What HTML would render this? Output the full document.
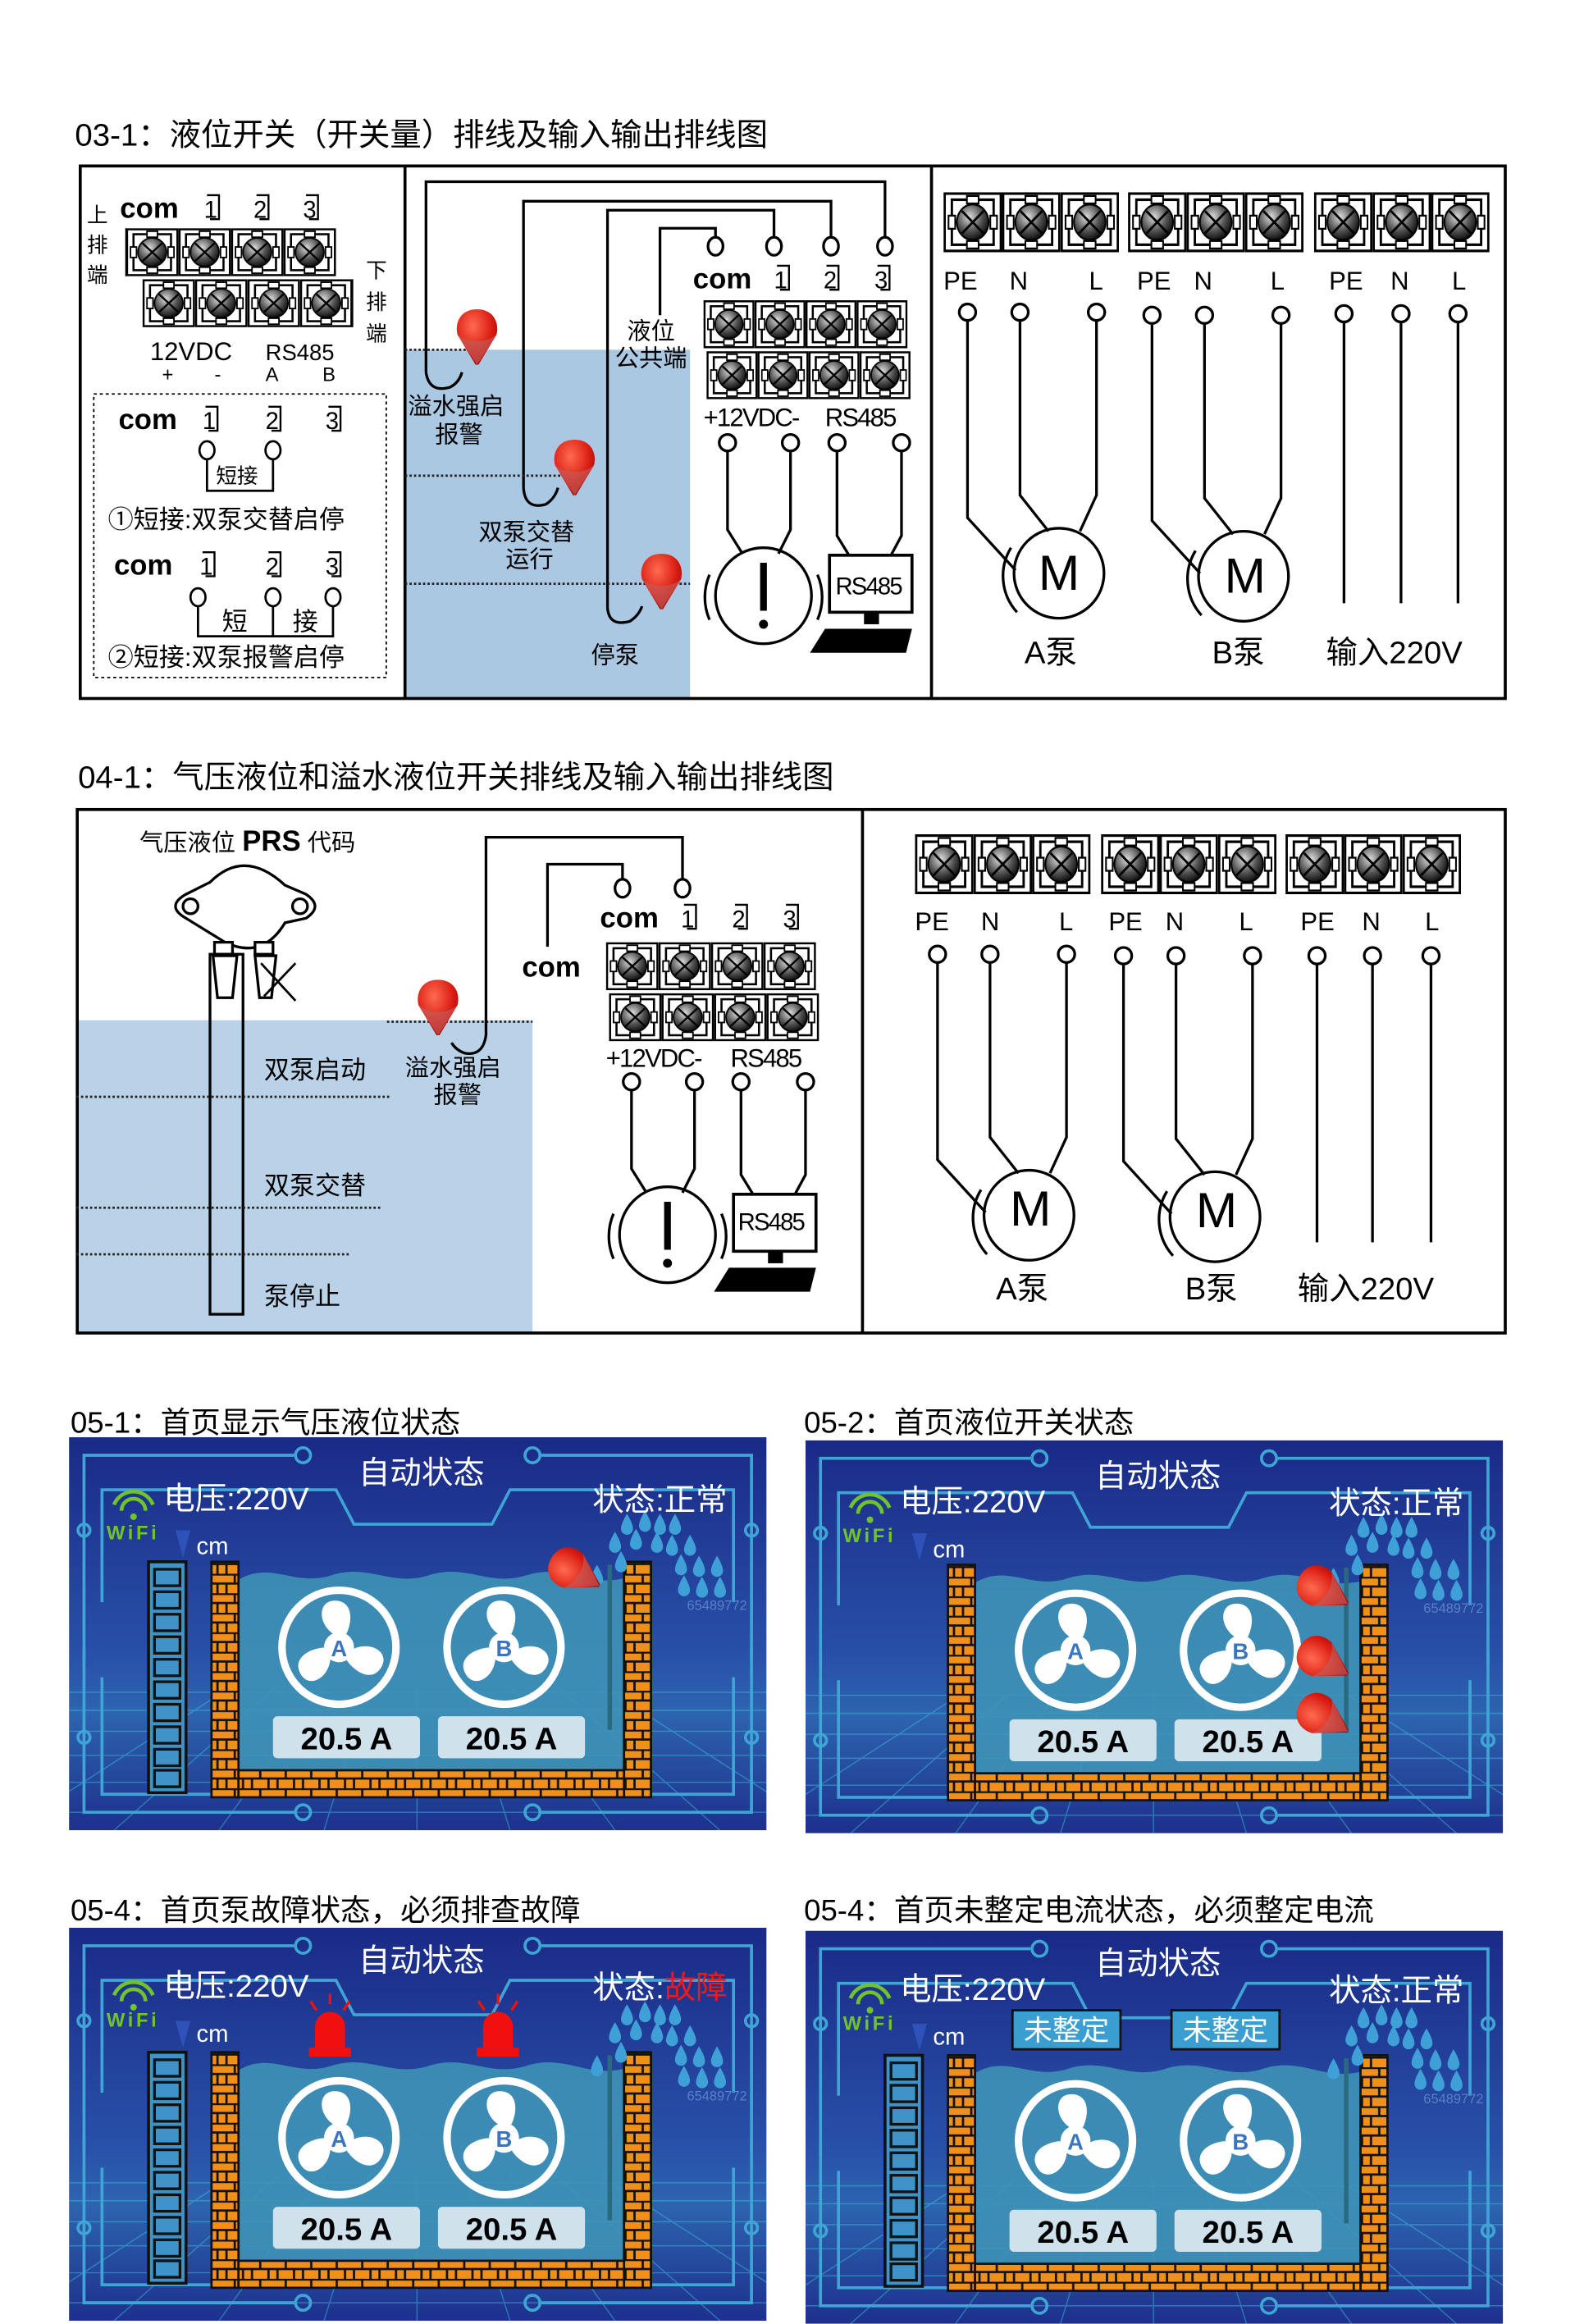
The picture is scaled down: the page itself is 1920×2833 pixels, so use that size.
<!DOCTYPE html>
<html><head><meta charset="utf-8"><style>
html,body{margin:0;padding:0;background:#fff}
svg{display:block}
text{font-family:"Liberation Sans","Noto Sans CJK SC",sans-serif}
</style></head><body>
<svg width="1920" height="2833" viewBox="0 0 1050 1549" xmlns="http://www.w3.org/2000/svg">
<defs>
<radialGradient id="sg" cx="40%" cy="35%" r="65%"><stop offset="0" stop-color="#ddd"/><stop offset=".6" stop-color="#555"/><stop offset="1" stop-color="#111"/></radialGradient>
<radialGradient id="fg" cx="40%" cy="30%" r="70%"><stop offset="0" stop-color="#ff6a50"/><stop offset=".7" stop-color="#d81a10"/><stop offset="1" stop-color="#a01010"/></radialGradient>
<symbol id="t" viewBox="0 0 35 32" preserveAspectRatio="none">
<rect x="0.7" y="0.7" width="33.6" height="30.6" fill="#fff" stroke="#000" stroke-width="1.4"/>
<rect x="5" y="4" width="25" height="24" fill="none" stroke="#000" stroke-width="1.4"/>
<rect x="14" y="2" width="7" height="4" fill="#fff" stroke="#000"/><rect x="14" y="26" width="7" height="4" fill="#fff" stroke="#000"/>
<rect x="3" y="12.5" width="4" height="7" fill="#fff" stroke="#000"/><rect x="28" y="12.5" width="4" height="7" fill="#fff" stroke="#000"/>
<circle cx="17.5" cy="16" r="9.5" fill="url(#sg)" stroke="#000"/>
<path d="M11,10 L24,22 M24,10 L11,22" stroke="#000" stroke-width="1.3"/>
</symbol>
<symbol id="fl" viewBox="-16 -16 32 40">
<path d="M0,-15 C11,-15 15,-6 13,2 L1,22 L-1,22 L-13,2 C-15,-6 -11,-15 0,-15Z" fill="url(#fg)"/>
<path d="M-13,2 L0,22 L13,2 C6,8 -6,8 -13,2Z" fill="#c06060" opacity=".6"/>
</symbol>
<pattern id="br" width="17" height="13" patternUnits="userSpaceOnUse">
<rect width="17" height="13" fill="#f0901a"/>
<path d="M0,0.5H17 M0,6.5H17 M8.5,0V6.5 M3,6.5V13 M14,6.5V13" stroke="#111" stroke-width="1.5"/>
</pattern>
<linearGradient id="bgG" x1="0" y1="0" x2="0" y2="1"><stop offset="0" stop-color="#1a2a86"/><stop offset=".55" stop-color="#2850a8"/><stop offset=".7" stop-color="#2d64b0"/><stop offset="1" stop-color="#1d308c"/></linearGradient>
<g id="fan">
<circle r="38" fill="none" stroke="#fff" stroke-width="5"/>
<g fill="#fff">
<path id="bl" d="M-4,-9 C-14,-16 -14,-30 -4,-31 C8,-32 10,-20 5,-9Z"/>
<use href="#bl" transform="rotate(120)"/><use href="#bl" transform="rotate(240)"/>
<circle r="10"/>
</g>
</g>
<symbol id="scr" viewBox="0 0 465 262">
<rect width="465" height="262" fill="url(#bgG)"/>
<g stroke="#3ec8e0" stroke-width="0.8" opacity=".45">
<path d="M0,170H465 M0,182H465 M0,196H465 M0,212H465 M0,230H465 M0,250H465"/>
<path d="M232,165L232,262 M200,165L170,262 M264,165L294,262 M170,165L100,262 M294,165L364,262 M140,165L30,262 M324,165L434,262 M110,165L-40,262 M354,165L505,262"/>
</g>
<g fill="none" stroke="#3fa5d5" stroke-width="2">
<path d="M10,150V12H150 M315,12H455V150 M22,110V35H178L190,58H282L294,35H443V110"/>
<path d="M10,140V250H150 M315,250H455V140 M22,160V238H180 M290,238H443V160"/>
<circle cx="156" cy="12" r="5"/><circle cx="309" cy="12" r="5"/><circle cx="10" cy="62" r="4"/><circle cx="455" cy="62" r="4"/>
<circle cx="156" cy="250" r="5"/><circle cx="309" cy="250" r="5"/><circle cx="10" cy="200" r="4"/><circle cx="455" cy="200" r="4"/>
</g>
<path d="M113,95 C135,82 150,100 175,92 C200,84 215,100 240,92 C265,84 280,100 305,92 C330,84 345,100 370,94 V222 H113Z" fill="#3e92b6" opacity=".9"/>
<rect x="359" y="85" width="3" height="110" fill="#2a6a80"/>
<rect x="95" y="83" width="18" height="157" fill="url(#br)" stroke="#111" stroke-width="1.5"/>
<rect x="370" y="83" width="18" height="157" fill="url(#br)" stroke="#111" stroke-width="1.5"/>
<rect x="113" y="222" width="257" height="18" fill="url(#br)" stroke="#111" stroke-width="1.5"/>
<use href="#fan" x="180" y="140"/><use href="#fan" x="290" y="140"/>
<text x="180" y="146" font-size="15" font-weight="bold" fill="#3d74c0" text-anchor="middle">A</text>
<text x="290" y="146" font-size="15" font-weight="bold" fill="#3d74c0" text-anchor="middle">B</text>
<rect x="136" y="186" width="98" height="28" rx="3" fill="#cfe2ec"/><rect x="246" y="186" width="98" height="28" rx="3" fill="#cfe2ec"/>
<text x="185" y="208" font-size="21" font-weight="bold" text-anchor="middle" fill="#000">20.5 A</text>
<text x="295" y="208" font-size="21" font-weight="bold" text-anchor="middle" fill="#000">20.5 A</text>
<g fill="#3fa0d8">
<path id="dr" d="M0,-7 C3,-2 4,1 4,3 A4,4 0 0 1 -4,3 C-4,1 -3,-2 0,-7Z" transform="translate(372,58)"/>
<use href="#dr" x="12" y="-2"/><use href="#dr" x="22" y="0"/><use href="#dr" x="32" y="0"/>
<use href="#dr" x="-8" y="12"/><use href="#dr" x="6" y="10"/><use href="#dr" x="20" y="12"/><use href="#dr" x="30" y="14"/><use href="#dr" x="42" y="14"/>
<use href="#dr" x="-4" y="25"/><use href="#dr" x="36" y="27"/><use href="#dr" x="48" y="28"/><use href="#dr" x="60" y="28"/>
<use href="#dr" x="-20" y="34"/><use href="#dr" x="38" y="41"/><use href="#dr" x="50" y="42"/><use href="#dr" x="62" y="42"/>
</g>
<text x="412" y="115" font-size="9" fill="#5a80c8">65489772</text>
<path d="M30,45 a14,14 0 0 1 26,0 M35,49 a8,8 0 0 1 16,0" fill="none" stroke="#6fc42c" stroke-width="2.5"/><circle cx="43" cy="53" r="2.2" fill="#6fc42c"/>
<path d="M71,62 H81 L76,80Z" fill="#2f52b8"/>
</symbol>
<symbol id="lev" viewBox="0 0 27 156"><rect x="1" y="1" width="25" height="154" fill="#3f93c8" stroke="#111" stroke-width="2"/>
<g fill="#3f93c8" stroke="#111" stroke-width="1.8"><rect x="5" y="6" width="17" height="11"/><rect x="5" y="21" width="17" height="11"/><rect x="5" y="36" width="17" height="11"/><rect x="5" y="51" width="17" height="11"/><rect x="5" y="66" width="17" height="11"/><rect x="5" y="81" width="17" height="11"/><rect x="5" y="96" width="17" height="11"/><rect x="5" y="111" width="17" height="11"/><rect x="5" y="126" width="17" height="11"/><rect x="5" y="140" width="17" height="11"/></g></symbol>
<g id="mg" fill="none" stroke="#000" stroke-width="1.8">
<circle cx="0" cy="0" r="5.5" fill="#fff"/><circle cx="35" cy="0" r="5.5" fill="#fff"/><circle cx="86" cy="0" r="5.5" fill="#fff"/>
<path d="M0,5.5V137L32,172 M35,5.5V122L54,146 M86,5.5V122L75,146"/>
<circle cx="61" cy="174" r="30"/>
<path d="M29,157 A36,36 0 0 0 33,200"/>
</g>
<g id="alarm" fill="none" stroke="#000" stroke-width="1.8">
<circle cx="0" cy="0" r="5.5" fill="#fff"/><circle cx="42" cy="0" r="5.5" fill="#fff"/>
<path d="M0,5.5V58L10,74 M42,5.5V58L34,74"/>
<circle cx="24" cy="102" r="32"/>
<path d="M-12,88 A38,38 0 0 0 -12,118 M60,88 A38,38 0 0 1 60,118"/>
<path d="M24,80V112" stroke-width="4.5"/><circle cx="24" cy="121" r="3" fill="#000" stroke="none"/>
</g>
<g id="pc">
<circle cx="0" cy="0" r="5.5" fill="#fff" stroke="#000" stroke-width="1.8"/><circle cx="43" cy="0" r="5.5" fill="#fff" stroke="#000" stroke-width="1.8"/>
<path d="M0,5.5V62L8,75 M43,5.5V62L36,75" fill="none" stroke="#000" stroke-width="1.8"/>
<rect x="-5" y="75" width="55" height="38" fill="#fff" stroke="#000" stroke-width="2"/>
<rect x="18" y="113" width="10" height="8" fill="#000"/>
<path d="M-8,124H50L46,140H-18Z" fill="#000"/>
</g>
<g id="bn" fill="none" stroke="#000" stroke-width="1.3"><path d="M-5,-15H3V1H-3"/></g>
</defs>

<!-- Section 1 -->
<text x="50" y="97" font-size="21">03-1：液位开关（开关量）排线及输入输出排线图</text>
<rect x="270" y="233" width="190" height="233" fill="#abc8e2"/>
<rect x="53.5" y="110.5" width="950" height="355" fill="none" stroke="#000" stroke-width="2"/>
<path d="M270,110V466 M621,110V466" stroke="#000" stroke-width="2"/>
<g font-size="14"><text x="58" y="148">上</text><text x="58" y="168">排</text><text x="58" y="188">端</text>
<text x="244" y="185">下</text><text x="244" y="206">排</text><text x="244" y="227">端</text></g>
<text x="80" y="145" font-size="19" font-weight="bold">com</text>
<g font-size="16"><text x="136" y="145">1</text><text x="169" y="145">2</text><text x="202" y="145">3</text></g>
<use href="#bn" x="143" y="145"/><use href="#bn" x="176" y="145"/><use href="#bn" x="209" y="145"/>
<use href="#t" x="84" y="152" width="35" height="32"/><use href="#t" x="119" y="152" width="35" height="32"/><use href="#t" x="154" y="152" width="35" height="32"/><use href="#t" x="189" y="152" width="35" height="32"/>
<use href="#t" x="95" y="186" width="35" height="32"/><use href="#t" x="130" y="186" width="35" height="32"/><use href="#t" x="165" y="186" width="35" height="32"/><use href="#t" x="200" y="186" width="35" height="32"/>
<path d="M84,152V184 M235,186V218" stroke="#000"/>
<text x="100" y="240" font-size="17">12VDC</text><text x="177" y="240" font-size="15">RS485</text>
<g font-size="13"><text x="108" y="254">+</text><text x="143" y="254">-</text><text x="177" y="254">A</text><text x="215" y="254">B</text></g>
<rect x="62.5" y="262.5" width="195" height="189" fill="none" stroke="#000" stroke-dasharray="2,2"/>
<text x="79" y="286" font-size="19" font-weight="bold">com</text>
<g font-size="16"><text x="135" y="286">1</text><text x="177" y="286">2</text><text x="217" y="286">3</text></g>
<use href="#bn" x="142" y="286"/><use href="#bn" x="184" y="286"/><use href="#bn" x="224" y="286"/>
<g fill="#fff" stroke="#000" stroke-width="1.5"><ellipse cx="138" cy="300" rx="5" ry="6"/><ellipse cx="182" cy="300" rx="5" ry="6"/></g>
<path d="M138,306V327H182V306" fill="none" stroke="#000" stroke-width="1.5"/>
<text x="144" y="322" font-size="14">短接</text>
<text x="72" y="352" font-size="17">①短接:双泵交替启停</text>
<text x="76" y="383" font-size="19" font-weight="bold">com</text>
<g font-size="16"><text x="133" y="383">1</text><text x="177" y="383">2</text><text x="217" y="383">3</text></g>
<use href="#bn" x="140" y="383"/><use href="#bn" x="184" y="383"/><use href="#bn" x="224" y="383"/>
<g fill="#fff" stroke="#000" stroke-width="1.5"><ellipse cx="132" cy="398" rx="5" ry="6"/><ellipse cx="182" cy="398" rx="5" ry="6"/><ellipse cx="222" cy="398" rx="5" ry="6"/></g>
<path d="M132,404V424H222V404 M182,404V424" fill="none" stroke="#000" stroke-width="1.5"/>
<text x="148" y="420" font-size="17">短</text><text x="195" y="420" font-size="17">接</text>
<text x="72" y="444" font-size="17">②短接:双泵报警启停</text>
<g fill="none" stroke="#000" stroke-width="1.8">
<path d="M284,248V121H590V158 M349,325V134H554V158 M405,405V140H516V158 M440,210V152H477V158"/>
<path d="M284,248 Q286,262 300,258 Q306,255 308,248 M349,325 Q350,340 364,336 Q370,332 372,325 M405,405 Q406,418 420,414 Q426,410 428,404"/>
<g fill="#fff"><ellipse cx="477" cy="164" rx="5" ry="6"/><ellipse cx="516" cy="164" rx="5" ry="6"/><ellipse cx="554" cy="164" rx="5" ry="6"/><ellipse cx="590" cy="164" rx="5" ry="6"/></g>
</g>
<path d="M270,233H320 M270,317H383 M270,389H460" stroke="#222" stroke-width="1.5" stroke-dasharray="1.5,1.5"/>
<use href="#fl" x="302" y="205" width="32" height="40"/>
<use href="#fl" x="367" y="292" width="32" height="40"/>
<use href="#fl" x="425" y="368" width="32" height="40"/>
<text x="272" y="276" font-size="16">溢水强启</text><text x="290" y="295" font-size="16">报警</text>
<text x="319" y="360" font-size="16">双泵交替</text><text x="337" y="378" font-size="16">运行</text>
<text x="394" y="442" font-size="16">停泵</text>
<text x="418" y="226" font-size="16">液位</text><text x="410" y="244" font-size="16">公共端</text>
<text x="462" y="192" font-size="19" font-weight="bold">com</text>
<g font-size="16"><text x="516" y="192">1</text><text x="549" y="192">2</text><text x="583" y="192">3</text></g>
<use href="#bn" x="523" y="192"/><use href="#bn" x="556" y="192"/><use href="#bn" x="590" y="192"/>
<use href="#t" x="469" y="200" width="34" height="32"/><use href="#t" x="503" y="200" width="34" height="32"/><use href="#t" x="537" y="200" width="34" height="32"/><use href="#t" x="571" y="200" width="34" height="32"/>
<use href="#t" x="471" y="234" width="34" height="32"/><use href="#t" x="505" y="234" width="34" height="32"/><use href="#t" x="539" y="234" width="34" height="32"/><use href="#t" x="573" y="234" width="34" height="32"/>
<text x="469" y="284" font-size="17" letter-spacing="-1">+12VDC-</text><text x="550" y="284" font-size="17" letter-spacing="-1">RS485</text>
<use href="#alarm" x="485" y="295"/>
<use href="#pc" x="558" y="295"/>
<text x="557" y="396" font-size="16" letter-spacing="-1">RS485</text>
<g><use href="#t" x="629" y="128" width="39" height="40"/><use href="#t" x="668" y="128" width="39" height="40"/><use href="#t" x="707" y="128" width="39" height="40"/>
<use href="#t" x="752" y="128" width="39" height="40"/><use href="#t" x="791" y="128" width="39" height="40"/><use href="#t" x="830" y="128" width="39" height="40"/>
<use href="#t" x="876" y="128" width="39" height="40"/><use href="#t" x="915" y="128" width="39" height="40"/><use href="#t" x="954" y="128" width="39" height="40"/></g>
<g font-size="17"><text x="629" y="193">PE</text><text x="673" y="193">N</text><text x="726" y="193">L</text>
<text x="758" y="193">PE</text><text x="796" y="193">N</text><text x="847" y="193">L</text>
<text x="886" y="193">PE</text><text x="927" y="193">N</text><text x="968" y="193">L</text></g>
<use href="#mg" x="645" y="208"/><use href="#mg" x="768" y="210"/>
<g font-size="33" text-anchor="middle"><text x="706" y="393">M</text><text x="830" y="395">M</text></g>
<g fill="#fff" stroke="#000" stroke-width="1.8"><circle cx="896" cy="209" r="5.5"/><circle cx="934" cy="209" r="5.5"/><circle cx="972" cy="209" r="5.5"/></g>
<path d="M896,214.5V402 M934,214.5V402 M972,214.5V402" stroke="#000" stroke-width="1.8"/>
<g font-size="21"><text x="683" y="442">A泵</text><text x="808" y="442">B泵</text><text x="884" y="442">输入220V</text></g>

<!-- Section 2 -->
<text x="52" y="525" font-size="21">04-1：气压液位和溢水液位开关排线及输入输出排线图</text>
<rect x="51" y="680" width="304" height="209" fill="#bad2e8"/>
<rect x="51.5" y="539.5" width="952" height="349" fill="none" stroke="#000" stroke-width="2"/>
<path d="M575,539V889" stroke="#000" stroke-width="2"/>
<text x="93" y="567" font-size="16">气压液位 <tspan font-weight="bold" font-size="19">PRS</tspan> 代码</text>
<g fill="#fff" stroke="#000" stroke-width="1.8">
<path d="M140,588 Q163,565 190,590 L204,596 Q216,604 204,612 L190,615 Q175,640 150,628 L124,612 Q110,604 124,596Z"/>
<circle cx="127" cy="604" r="5"/><circle cx="200" cy="604" r="5"/>
<rect x="143" y="628" width="12" height="8"/><rect x="170" y="628" width="12" height="8"/>
<path d="M142,637H158L155,665H145Z"/><path d="M170,637H184L181,665H173Z"/>
<rect x="140" y="636" width="22" height="240" fill="none"/>
</g>
<path d="M174,642 L197,667 M197,642 L176,664" stroke="#000" stroke-width="1.5"/>
<path d="M51,731H260 M51,805H255 M51,836H233 M258,681H355" stroke="#222" stroke-width="1.5" stroke-dasharray="1.5,1.5"/>
<g font-size="17"><text x="176" y="719">双泵启动</text><text x="176" y="796">双泵交替</text><text x="176" y="870">泵停止</text></g>
<text x="270" y="717" font-size="16">溢水强启</text><text x="289" y="735" font-size="16">报警</text>
<use href="#fl" x="276" y="652" width="32" height="40"/>
<g fill="none" stroke="#000" stroke-width="1.8">
<path d="M324,690V558H455V586 M365,631V576H415V586"/>
<path d="M324,690 Q322,704 310,702 Q304,700 301,695"/>
<g fill="#fff"><ellipse cx="415" cy="592" rx="5" ry="6"/><ellipse cx="455" cy="592" rx="5" ry="6"/></g>
</g>
<text x="348" y="651" font-size="19" font-weight="bold">com</text>
<text x="400" y="618" font-size="19" font-weight="bold">com</text>
<g font-size="16"><text x="454" y="618">1</text><text x="488" y="618">2</text><text x="522" y="618">3</text></g>
<use href="#bn" x="461" y="618"/><use href="#bn" x="495" y="618"/><use href="#bn" x="529" y="618"/>
<use href="#t" x="404" y="628" width="35" height="32"/><use href="#t" x="439" y="628" width="35" height="32"/><use href="#t" x="474" y="628" width="35" height="32"/><use href="#t" x="509" y="628" width="35" height="32"/>
<use href="#t" x="406" y="662" width="35" height="32"/><use href="#t" x="441" y="662" width="35" height="32"/><use href="#t" x="476" y="662" width="35" height="32"/><use href="#t" x="511" y="662" width="35" height="32"/>
<text x="404" y="711" font-size="17" letter-spacing="-1">+12VDC-</text><text x="487" y="711" font-size="17" letter-spacing="-1">RS485</text>
<use href="#alarm" x="421" y="721"/>
<use href="#pc" x="494" y="721"/>
<text x="492" y="820" font-size="16" letter-spacing="-1">RS485</text>
<g><use href="#t" x="610" y="556" width="39" height="40"/><use href="#t" x="649" y="556" width="39" height="40"/><use href="#t" x="688" y="556" width="39" height="40"/>
<use href="#t" x="734" y="556" width="39" height="40"/><use href="#t" x="773" y="556" width="39" height="40"/><use href="#t" x="812" y="556" width="39" height="40"/>
<use href="#t" x="857" y="556" width="39" height="40"/><use href="#t" x="896" y="556" width="39" height="40"/><use href="#t" x="935" y="556" width="39" height="40"/></g>
<g font-size="17"><text x="610" y="620">PE</text><text x="654" y="620">N</text><text x="706" y="620">L</text>
<text x="739" y="620">PE</text><text x="777" y="620">N</text><text x="826" y="620">L</text>
<text x="867" y="620">PE</text><text x="908" y="620">N</text><text x="950" y="620">L</text></g>
<use href="#mg" x="625" y="636"/><use href="#mg" x="749" y="637"/>
<g font-size="33" text-anchor="middle"><text x="687" y="817">M</text><text x="811" y="818">M</text></g>
<g fill="#fff" stroke="#000" stroke-width="1.8"><circle cx="878" cy="637" r="5.5"/><circle cx="915" cy="637" r="5.5"/><circle cx="954" cy="637" r="5.5"/></g>
<path d="M878,642.5V828 M915,642.5V828 M954,642.5V828" stroke="#000" stroke-width="1.8"/>
<g font-size="21"><text x="664" y="866">A泵</text><text x="790" y="866">B泵</text><text x="865" y="866">输入220V</text></g>

<!-- Screens -->
<g font-size="20"><text x="47" y="955">05-1：首页显示气压液位状态</text><text x="536" y="955">05-2：首页液位开关状态</text>
<text x="47" y="1280">05-4：首页泵故障状态，必须排查故障</text><text x="536" y="1280">05-4：首页未整定电流状态，必须整定电流</text></g>

<g transform="translate(46,958)">
<use href="#scr" width="465" height="262"/><use href="#lev" x="52" y="82" width="27" height="156"/>
<use href="#fl" x="322" y="70" width="32" height="40" transform="rotate(-60 338 90)"/>
</g>
<g transform="translate(537,960)">
<use href="#scr" width="465" height="262"/>
<use href="#fl" x="330" y="80" width="32" height="40" transform="rotate(-60 346 100)"/>
<use href="#fl" x="330" y="127" width="32" height="40" transform="rotate(-60 346 147)"/>
<use href="#fl" x="330" y="165" width="32" height="40" transform="rotate(-60 346 185)"/>
</g>
<g transform="translate(46,1285)">
<use href="#scr" width="465" height="262"/><use href="#lev" x="52" y="82" width="27" height="156"/>
<g fill="#f01010"><path d="M164,80V66 A10,10 0 0 1 184,66V80Z"/><rect x="160" y="80" width="28" height="6"/>
<path d="M276,80V66 A10,10 0 0 1 296,66V80Z"/><rect x="272" y="80" width="28" height="6"/></g>
<path d="M174,51V44 M165,55L161,49 M183,55L187,49 M286,51V44 M277,55L273,49 M295,55L299,49" stroke="#f01010" stroke-width="1.8"/>
</g>
<g transform="translate(537,1287)">
<use href="#scr" width="465" height="262"/><use href="#lev" x="52" y="82" width="27" height="156"/>
<rect x="138" y="53" width="72" height="26" fill="#3a9ed0" stroke="#111" stroke-width="1.5"/>
<rect x="244" y="53" width="72" height="26" fill="#3a9ed0" stroke="#111" stroke-width="1.5"/>
<text x="174" y="73" font-size="19" fill="#fff" text-anchor="middle">未整定</text>
<text x="280" y="73" font-size="19" fill="#fff" text-anchor="middle">未整定</text>
</g>

<g fill="#fff" font-size="21">
<text x="281" y="989" text-anchor="middle">自动状态</text><text x="109" y="1006">电压:220V</text><text x="395" y="1007">状态:正常</text><text x="131" y="1036" font-size="16">cm</text>
<text x="772" y="991" text-anchor="middle">自动状态</text><text x="600" y="1008">电压:220V</text><text x="886" y="1009">状态:正常</text><text x="622" y="1038" font-size="16">cm</text>
<text x="281" y="1314" text-anchor="middle">自动状态</text><text x="109" y="1331">电压:220V</text><text x="395" y="1332">状态:<tspan fill="#f01818">故障</tspan></text><text x="131" y="1361" font-size="16">cm</text>
<text x="772" y="1316" text-anchor="middle">自动状态</text><text x="600" y="1333">电压:220V</text><text x="886" y="1334">状态:正常</text><text x="622" y="1363" font-size="16">cm</text>
</g>
<g fill="#6fc42c" font-size="13" font-weight="bold" letter-spacing="2">
<text x="71" y="1026">WiFi</text><text x="562" y="1028">WiFi</text><text x="71" y="1351">WiFi</text><text x="562" y="1353">WiFi</text>
</g>
</svg>
</body></html>
